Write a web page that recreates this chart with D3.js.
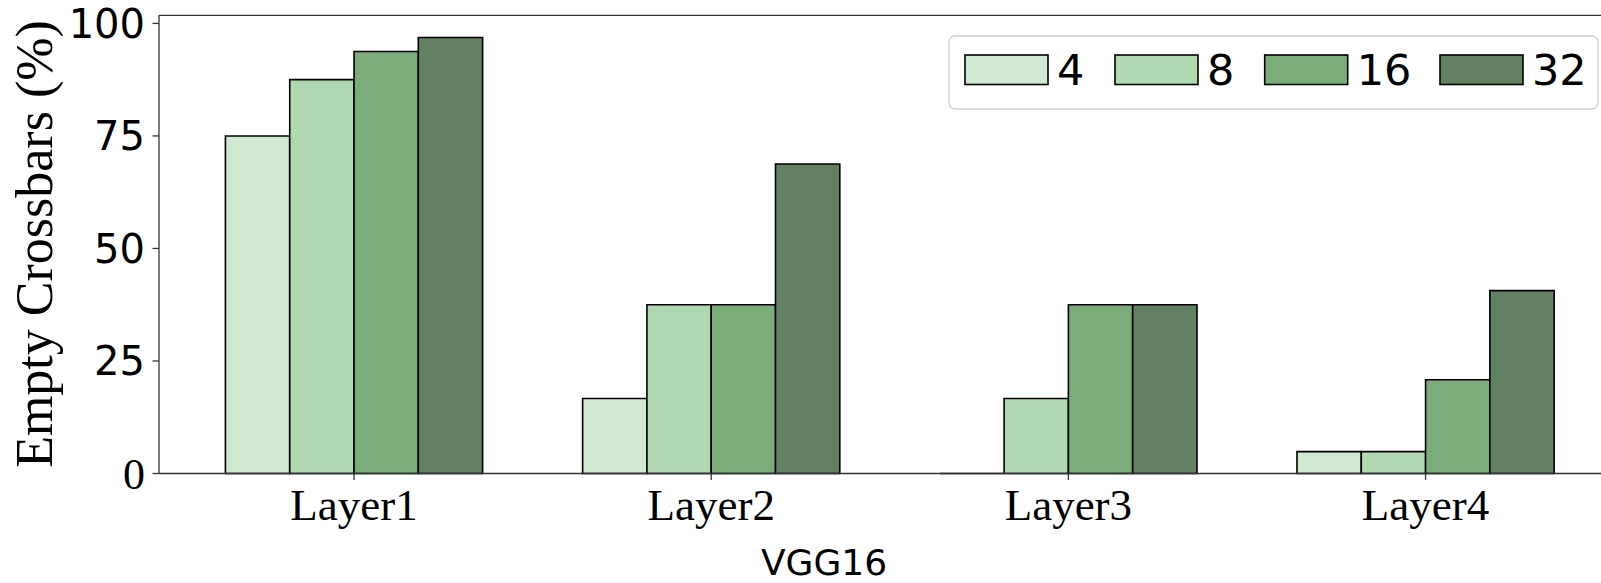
<!DOCTYPE html>
<html>
<head>
<meta charset="utf-8">
<script src="https://cdn.jsdelivr.net/npm/d3@7"></script>
<style>
  html, body { margin: 0; padding: 0; background: #fff; }
  svg { display: block; }
</style>
</head>
<body>
<svg id="chart" width="1601" height="583"></svg>
<script>
const categories = ["Layer1", "Layer2", "Layer3", "Layer4"];
const seriesNames = ["4", "8", "16", "32"];
const values4  = [75.0, 16.67, 0.0, 4.86];
const values8  = [87.5, 37.5, 16.67, 4.86];
const values16 = [93.75, 37.5, 37.5, 20.83];
const values32 = [96.875, 68.75, 37.5, 40.625];
const seriesValues = [values4, values8, values16, values32];
const colors = ["#d1e8d3", "#b1d9b1", "#7bad7a", "#628163"];
const yTicks = [0, 25, 50, 75, 100];

(function () {
const svg = d3.select("#chart");
const pLeft = 159, pRight = 1620.6, pTop = 15.3, pBottom = 473.5;
const barW = 0.18;

const x = d3.scaleLinear().domain([-0.546, 3.546]).range([pLeft, pRight]);
const y = d3.scaleLinear().domain([0, 101.8]).range([pBottom, pTop]);

// bars
seriesValues.forEach((vals, si) => {
  svg.append("g").selectAll("path").data(vals).join("path")
    .attr("d", (v, ci) => {
      const x0 = x(ci - 2 * barW + si * barW), x1 = x(ci - 2 * barW + (si + 1) * barW);
      const y0 = y(0), y1 = y(v);
      return `M${x0},${y0}V${y1}H${x1}V${y0}Z`;
    })
    .attr("fill", colors[si])
    .attr("stroke", "#000")
    .attr("stroke-width", 1.6);
});

// spines
svg.append("line").attr("x1", pLeft).attr("x2", pLeft).attr("y1", pTop).attr("y2", pBottom)
  .attr("stroke", "#333").attr("stroke-width", 1.3);
svg.append("line").attr("x1", pLeft).attr("x2", 1601).attr("y1", pTop).attr("y2", pTop)
  .attr("stroke", "#333").attr("stroke-width", 1.3);
svg.append("line").attr("x1", pLeft).attr("x2", 1601).attr("y1", pBottom).attr("y2", pBottom)
  .attr("stroke", "#333").attr("stroke-width", 1.3);

// y axis ticks
const yAxis = svg.append("g");
yTicks.forEach(t => {
  yAxis.append("line").attr("x1", pLeft - 6.5).attr("x2", pLeft).attr("y1", y(t)).attr("y2", y(t))
    .attr("stroke", "#333").attr("stroke-width", 1.3);
  yAxis.append("text").attr("x", 145).attr("y", y(t)).attr("dy", "0.36em")
    .attr("text-anchor", "end")
    .attr("font-family", t === 0 ? "Liberation Serif" : "DejaVu Sans")
    .attr("font-size", t === 0 ? 44 : 40)
    .attr("fill", "#000").text(t);
});

// x axis ticks
const xAxis = svg.append("g");
categories.forEach((c, i) => {
  xAxis.append("line").attr("x1", x(i)).attr("x2", x(i)).attr("y1", pBottom).attr("y2", pBottom + 6.5)
    .attr("stroke", "#333").attr("stroke-width", 1.3);
  xAxis.append("text").attr("x", x(i)).attr("y", 520)
    .attr("text-anchor", "middle")
    .attr("font-family", "Liberation Serif").attr("font-size", 45)
    .attr("fill", "#000").text(c);
});

// axis labels
svg.append("text").attr("transform", "translate(52,244) rotate(-90)")
  .attr("text-anchor", "middle")
  .attr("font-family", "Liberation Serif").attr("font-size", 52)
  .attr("fill", "#000").text("Empty Crossbars (%)");
svg.append("text").attr("x", 824).attr("y", 575)
  .attr("text-anchor", "middle")
  .attr("font-family", "DejaVu Sans").attr("font-size", 36)
  .attr("fill", "#000").text("VGG16");

// legend
const lg = svg.append("g");
lg.append("rect").attr("x", 949).attr("y", 36).attr("width", 649).attr("height", 73)
  .attr("rx", 6).attr("fill", "#fff").attr("fill-opacity", 0.8)
  .attr("stroke", "#d0d0d0").attr("stroke-width", 1.3);
const legX = [965, 1115, 1264.7, 1440];
seriesNames.forEach((n, i) => {
  lg.append("rect").attr("x", legX[i]).attr("y", 55).attr("width", 83).attr("height", 29.5)
    .attr("fill", colors[i]).attr("stroke", "#000").attr("stroke-width", 1.6);
  lg.append("text").attr("x", legX[i] + 92).attr("y", 84.5)
    .attr("font-family", "DejaVu Sans").attr("font-size", 43)
    .attr("fill", "#000").text(n);
});
})();
</script>
</body>
</html>
